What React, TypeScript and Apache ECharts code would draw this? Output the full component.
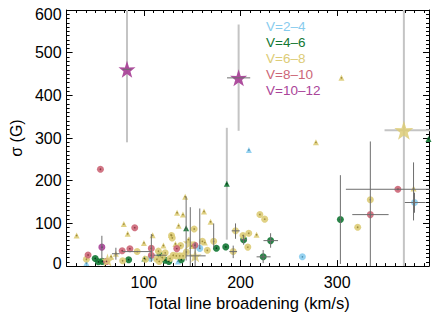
import React, { useEffect, useRef } from 'react';
import * as echarts from 'echarts';

// ---- categories / legend ----
const groups = ['V=2–4', 'V=4–6', 'V=6–8', 'V=8–10', 'V=10–12'];
const groupColors = ['#88CCEE', '#117733', '#DDCC77', '#CC6677', '#AA4499'];
const dotColors = ['#4f8fae', '#0a3d1c', '#9c8a3c', '#8a3545', '#6a2560'];

// ---- axis ticks ----
const xMajorTicks = [100, 200, 300];
const yMajorTicks = [0, 100, 200, 300, 400, 500, 600];

// ---- data: [total line broadening (km/s), sigma (G)] ----
const blueCircles = [[157.8, 41.5], [264, 21.7], [380, 149], [106.7, 18.6]];
const blueTriangles = [[208.6, 272], [40.5, 7], [135.3, 11]];

const greenCircles = [
  [303.3, 109], [203.2, 62], [231.1, 59.7], [223.4, 21.7], [184.7, 45], [175, 42],
  [84.2, 15], [49.6, 18], [52.9, 10], [56.9, 11], [116.8, 25.5], [121.8, 14],
  [125.8, 11], [138.7, 15],
];
const greenTriangles = [[185.8, 192.8], [143.7, 88.6], [100.5, 18], [394.5, 298]];

const yellowCircles = [
  [220, 121], [225, 110], [321.2, 91], [334.3, 155.5], [194.8, 82.6], [202.5, 71.8],
  [208.5, 77], [207.5, 44.5], [192.4, 34], [172.2, 58], [152, 87], [160.5, 58],
  [165.6, 37], [128.6, 71.8], [129.3, 66], [93, 34], [78, 12.6], [101.6, 16],
  [113.4, 16], [115.8, 11], [130.3, 25.5], [133.5, 24], [137, 24], [140.5, 24],
  [138, 48], [115, 35], [122, 31], [40.5, 16], [144, 33], [119, 20], [127, 18],
];
const yellowTriangles = [
  [30.4, 71.8], [79.2, 98.4], [83.2, 75.7], [109, 72], [100, 54.4], [120.2, 48.3],
  [128, 73], [134.3, 125], [140.4, 120.6], [142.7, 162.4], [135.9, 94.7], [162.2, 128],
  [169, 103.8], [132.6, 52], [149.4, 47], [163, 55], [216.6, 73.4], [278, 290],
  [304.4, 441], [379, 182], [71, 29], [66, 22], [146, 62],
];
const yellowStarsSmall = [[62.3, 14], [147, 54.4], [153, 24]];
const yellowStarsBig = [[369, 318]];

const pinkCircles = [
  [55, 227], [42.2, 26], [61.3, 11], [77.5, 36], [85.5, 40.5], [90.5, 90],
  [107.7, 41.5], [107.7, 25.5], [134, 41], [152.8, 49], [334.3, 120.6], [362.8, 180],
];

const purpleCircles = [[56.5, 44.4]];
const purpleStars = [[82.5, 461], [198, 441]];

// ---- error bars: [x, y, xLow, xHigh, yLow, yHigh] ----
const errLight = [
  [82.5, 461, 82.5, 82.5, 290, 640],
  [198, 441, 198, 198, 317, 566],
  [369, 318, 349, 420, -40, 680],
  [185.8, 192.8, 185.8, 185.8, 62, 324],
];
const errDark = [
  [82.5, 461, 78, 87, 461, 461],
  [198, 441, 186, 210, 441, 441],
  [303.3, 109, 303.3, 303.3, 5, 213],
  [334.3, 155.5, 334.3, 334.3, -20, 292],
  [334.3, 120.6, 315.6, 353.2, 120.6, 120.6],
  [362.8, 180, 309, 417, 180, 180],
  [379, 182, 379, 379, 107, 243],
  [380, 149, 370, 391.5, 125, 172],
  [143.7, 88.6, 143.7, 143.7, 13, 163],
  [148, 54.4, 148, 148, -5, 138],
  [153, 24, 143.7, 163.9, -5, 55],
  [172.2, 58, 172.2, 172.2, 43, 100],
  [157.8, 41.5, 157.8, 157.8, 40, 135],
  [203.2, 62, 200, 206.5, 50, 73],
  [231.1, 59.7, 223.7, 238.8, 43, 77],
  [223.4, 21.7, 216.6, 231.1, 7, 37.6],
  [194.8, 82.6, 190.8, 199.2, 64, 100],
  [192.4, 34, 188.4, 196.4, 18.6, 48],
  [56.5, 44.4, 56.5, 56.5, 17, 71],
  [107.7, 41.5, 107.7, 107.7, 10, 75],
  [93, 34, 78, 108.5, 34, 34],
  [116.8, 25.5, 110, 123.5, 25.5, 25.5],
  [71, 29, 67, 75, 15, 43],
];

const STAR = 'path://M50,0 L61.8,35.1 L97.6,34.5 L69.1,56.7 L79.4,90.5 L50,70 L20.6,90.5 L30.9,56.7 L2.4,34.5 L38.2,35.1 Z';
const FONT = "'Liberation Sans', Arial, Helvetica, sans-serif";

function errSeries(data: number[][], stroke: string, width: number, z: number) {
  return {
    type: 'custom',
    name: 'err',
    clip: true,
    z,
    silent: true,
    encode: { x: [0, 2, 3], y: [1, 4, 5] },
    data,
    renderItem: (params: any, api: any) => {
      const x = api.value(0), y = api.value(1);
      const xl = api.value(2), xh = api.value(3), yl = api.value(4), yh = api.value(5);
      const children: any[] = [];
      if (yl !== yh) {
        const a = api.coord([x, yl]);
        const b = api.coord([x, yh]);
        children.push({ type: 'line', shape: { x1: a[0], y1: a[1], x2: b[0], y2: b[1] }, style: { stroke, lineWidth: width } });
      }
      if (xl !== xh) {
        const a = api.coord([xl, y]);
        const b = api.coord([xh, y]);
        children.push({ type: 'line', shape: { x1: a[0], y1: a[1], x2: b[0], y2: b[1] }, style: { stroke, lineWidth: width } });
      }
      return { type: 'group', children };
    },
  };
}

function scatter(name: string, data: number[][], symbol: string, size: number, color: string, z = 3, opacity = 0.9) {
  return {
    type: 'scatter',
    name,
    data,
    symbol,
    symbolSize: size,
    z,
    itemStyle: { color, opacity },
    emphasis: { disabled: true },
  };
}

export default function App() {
  const ref = useRef<HTMLDivElement>(null);
  useEffect(() => {
    if (!ref.current) return;
    const chart = echarts.init(ref.current, null, { renderer: 'svg' });

    const xMinor: number[] = [];
    for (let v = 30; v <= 390; v += 10) if (!xMajorTicks.includes(v)) xMinor.push(v);

    const axisLine = { show: true, lineStyle: { color: '#000', width: 1 } };
    const xBase = { type: 'value', min: 20, max: 395, splitNumber: 4, splitLine: { show: false }, axisLine, gridIndex: 0 };
    const yBase = {
      type: 'value', min: 0, max: 600, interval: 100, splitLine: { show: false }, axisLine,
      axisTick: { show: true, inside: true, length: 6, lineStyle: { color: '#000' } },
      minorTick: { show: true, splitNumber: 10, length: 3, lineStyle: { color: '#000' } },
    };
    const labelStyle = { color: '#000', fontSize: 16, fontFamily: FONT };
    const yMin = yMajorTicks[0];
    const yMax = yMajorTicks[yMajorTicks.length - 1];

    const groupSeries: any[] = [];
    const circ = [blueCircles, greenCircles, yellowCircles, pinkCircles, purpleCircles];
    const tri = [blueTriangles, greenTriangles, yellowTriangles, [], []];
    groups.forEach((g, i) => {
      groupSeries.push(scatter(g, circ[i], 'circle', 7, groupColors[i]));
      if (tri[i].length) groupSeries.push(scatter(g, tri[i], 'triangle', 6, groupColors[i]));
      groupSeries.push(scatter('dot' + i, [...circ[i], ...tri[i]], 'circle', 1.6, dotColors[i], 4, 1));
    });
    groupSeries.push(scatter(groups[2], yellowStarsSmall, STAR, 13, groupColors[2], 3, 0.85));
    groupSeries.push(scatter(groups[2], yellowStarsBig, STAR, 19, groupColors[2], 3, 0.85));
    groupSeries.push(scatter(groups[4], purpleStars, STAR, 17, groupColors[4], 3, 0.95));

    chart.setOption({
      animation: false,
      textStyle: { fontFamily: FONT },
      grid: { left: 58, right: 14, top: 10, bottom: 45, containLabel: false },
      legend: {
        left: 261,
        top: 18,
        orient: 'vertical',
        icon: 'none',
        itemWidth: 0,
        itemHeight: 16,
        itemGap: 0,
        padding: 0,
        selectedMode: false,
        textStyle: { fontSize: 13.5, fontFamily: FONT, lineHeight: 16 },
        data: groups.map((g, i) => ({ name: g, textStyle: { color: groupColors[i] } })),
      },
      xAxis: [
        {
          ...xBase, position: 'bottom',
          name: 'Total line broadening (km/s)', nameLocation: 'middle', nameGap: 22,
          nameTextStyle: { fontSize: 16.6, color: '#000', fontFamily: FONT },
          axisTick: { show: true, inside: true, length: 6, lineStyle: { color: '#000' } },
          axisLabel: {
            ...labelStyle, show: true, margin: 8, showMinLabel: false, showMaxLabel: false,
            formatter: (v: number) => (xMajorTicks.includes(v) ? String(v) : ''),
          },
        },
        {
          ...xBase, position: 'bottom', axisLine: { show: false },
          axisTick: { show: true, inside: true, length: 3, customValues: xMinor, lineStyle: { color: '#000' } },
          axisLabel: { show: false },
        },
        {
          ...xBase, position: 'top',
          axisTick: { show: true, inside: true, length: 6, lineStyle: { color: '#000' } },
          axisLabel: { show: false },
        },
        {
          ...xBase, position: 'top', axisLine: { show: false },
          axisTick: { show: true, inside: true, length: 3, customValues: xMinor, lineStyle: { color: '#000' } },
          axisLabel: { show: false },
        },
      ],
      yAxis: [
        {
          ...yBase, position: 'left',
          name: 'σ (G)', nameLocation: 'middle', nameGap: 35, nameRotate: 90,
          nameTextStyle: { fontSize: 16, color: '#000', fontFamily: FONT },
          axisLabel: {
            ...labelStyle, show: true, margin: 5,
            formatter: (v: number) => {
              if (!yMajorTicks.includes(v)) return '';
              if (v === yMin) return '{lo|' + v + '}';
              if (v === yMax) return '{hi|' + v + '}';
              return String(v);
            },
            rich: {
              lo: { ...labelStyle, padding: [0, 0, 6, 0] },
              hi: { ...labelStyle, padding: [8, 0, 0, 0] },
            },
          },
        },
        { ...yBase, position: 'right', axisLabel: { show: false } },
      ],
      series: [
        errSeries(errLight, '#c4c4c4', 2, 1),
        ...groupSeries,
        errSeries(errDark, '#6e6e6e', 1, 5),
      ],
    });
    return () => chart.dispose();
  }, []);
  return <div ref={ref} style={{ position: 'fixed', left: 0, top: 0, width: 443, height: 317, background: '#fff' }} />;
}
